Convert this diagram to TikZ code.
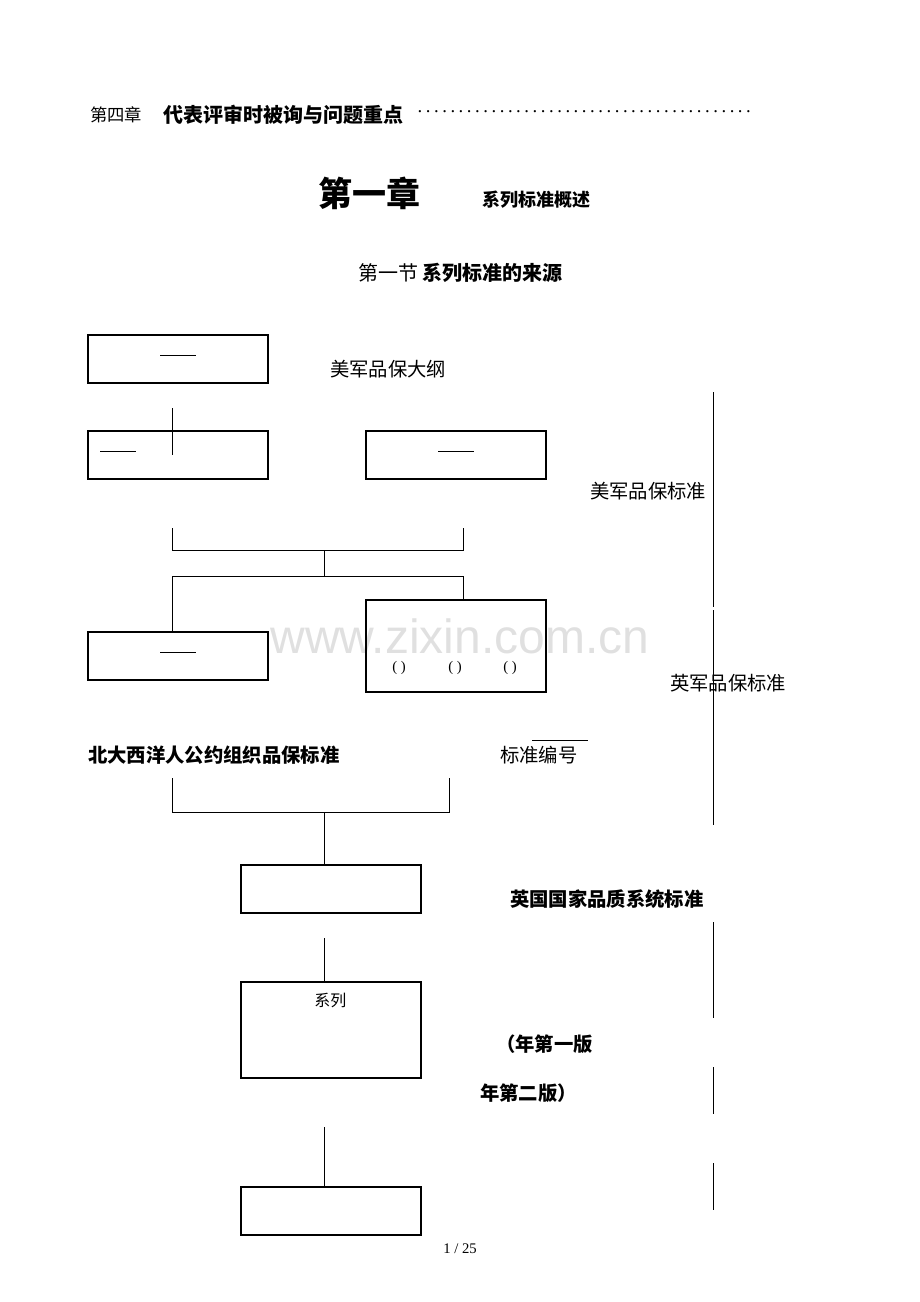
\documentclass[tikz,border=0pt]{standalone}
\usepackage{fontspec}
\setmainfont{Liberation Serif}
\newfontfamily\cjk{Noto Sans CJK SC}
\newfontfamily\wmfont{Liberation Sans}
\usetikzlibrary{positioning}

\tikzset{
  box/.style={draw,thick,minimum width=135pt,minimum height=36pt,inner sep=0pt},
  tall/.style={box,minimum height=72pt},
  txt/.style={font=\cjk\fontsize{14.5}{17}\selectfont,inner sep=0pt,anchor=west},
  btxt/.style={font=\cjk\bfseries\fontsize{14.5}{17}\selectfont,inner sep=0pt,anchor=west},
  par/.style={font=\fontsize{11}{13}\selectfont,inner sep=0pt,anchor=west}
}

\begin{document}
\begin{tikzpicture}[x=0.75pt,y=-0.75pt]
\useasboundingbox (0,0) rectangle (920,1302);

% watermark
\node[text=black!12,font=\wmfont\fontsize{36}{40}\selectfont] (wm) at (460,636) {www.zixin.com.cn};

% headings
\node[txt,font=\cjk\fontsize{13}{15}\selectfont] (ch4) at (90,115) {第四章};
\node[btxt,font=\cjk\bfseries\fontsize{15}{17}\selectfont] (ch4t) at (163,115) {代表评审时被询与问题重点};
\node[inner sep=0pt,anchor=west,font=\fontsize{14}{16}\selectfont] (dots) at (414,112) {\makebox[255pt]{\dotfill}};
\node[btxt,font=\cjk\bfseries\fontsize{25.5}{30}\selectfont] (ch1) at (318,193) {第一章};
\node[btxt,font=\cjk\bfseries\fontsize{13.5}{16}\selectfont] (ch1t) at (482,200) {系列标准概述};
\node[txt,font=\cjk\fontsize{15}{17}\selectfont] (sec1) at (358,273) {第一节 \textbf{系列标准的来源}};

% boxes
\node[box] (b1) at (178,359) {};
\node[box] (b2) at (178,455) {};
\node[box] (b3) at (456,455) {};
\node[box] (b4) at (178,656) {};
\node[box,minimum height=69pt] (b5) at (456,646) {};
\node[box] (b6) at (331,889) {};
\node[tall] (b7) at (331,1030) {};
\node[box] (b8) at (331,1211) {};

% short rules inside boxes
\draw (160,355) -- (196,355);
\draw (100,451) -- (136,451);
\draw (438,451) -- (474,451);
\draw (160,652) -- (196,652);
\node[par] (p1) at (392,668) {( )};
\node[par] (p2) at (448,668) {( )};
\node[par] (p3) at (503,668) {( )};
\node[txt,font=\cjk\fontsize{12}{14}\selectfont] (xl) at (314,1000) {系列};

% labels
\node[txt] (l1) at (330,369) {美军品保大纲};
\node[txt] (l2) at (590,491) {美军品保标准};
\node[txt] (l3) at (670,683) {英军品保标准};
\node[btxt] (l4) at (88,755) {北大西洋人公约组织品保标准};
\node[txt] (l5) at (500,755) {标准编号};
\draw (532,740) -- (588,740);
\node[btxt] (l6) at (510,899) {英国国家品质系统标准};
\node[btxt] (l7) at (496,1044) {（年第一版};
\node[btxt] (l8) at (480,1093) {年第二版）};
\node[font=\fontsize{11}{13}\selectfont] (pg) at (460,1249) {1 / 25};

% connectors
\draw (172,408) -- (172,455);
\draw (172,528) |- (463,550) -- (463,528);
\draw (324,550) -- (324,576);
\draw (172,632) |- (463,576) -- (463,600);
\draw (172,778) |- (449,812) -- (449,778);
\draw (324,812) -- (324,865);
\draw (324,938) -- (324,982);
\draw (324,1127) -- (324,1187);

% right-hand rules
\foreach \ya/\yb in {392/607, 610/825, 922/1018, 1067/1114, 1163/1210}
  \draw (713,\ya) -- (713,\yb);
\end{tikzpicture}
\end{document}
